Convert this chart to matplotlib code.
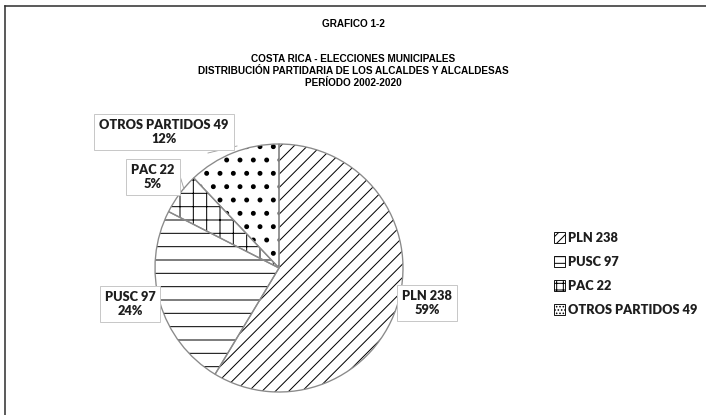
import matplotlib.pyplot as plt
from matplotlib.lines import Line2D
from matplotlib.patches import Patch

parties = ['PLN', 'PUSC', 'PAC', 'OTROS PARTIDOS']
mayors = [238, 97, 22, 49]
hatches = ['//', '-', '+', '.']
legend_hatches = ['///', '--', '++', '....']

title_lines = ['GRAFICO 1-2', '', 'COSTA RICA - ELECCIONES MUNICIPALES',
               'DISTRIBUCIÓN PARTIDARIA DE LOS ALCALDES Y ALCALDESAS',
               'PERÍODO 2002-2020']

plt.rcParams['hatch.linewidth'] = 0.9
W, H = 706, 415
fig = plt.figure(figsize=(W / 80, H / 80), dpi=80)

# pie axes: center (279, 268) px, radius 124 px
cx, cy, r = 279, 268, 124
ax = fig.add_axes([(cx - r) / W, (H - cy - r) / H, 2 * r / W, 2 * r / H])
wedges, _ = ax.pie(mayors, startangle=90, counterclock=False,
                   colors=['white'] * 4,
                   wedgeprops=dict(edgecolor='black', linewidth=0))
for w, h in zip(wedges, hatches):
    w.set_hatch(h)
# bigger dots for the last wedge
if hasattr(wedges[3], 'set_hatch_linewidth'):
    wedges[3].set_hatch_linewidth(2.0)
# grey outline on top of the hatched wedges
ax.pie(mayors, startangle=90, counterclock=False, colors=['none'] * 4,
       wedgeprops=dict(edgecolor='#8a8a8a', linewidth=1.2))
ax.set_xlim(-1, 1)
ax.set_ylim(-1, 1)
ax.axis('off')

# titles
fig.text(0.5, 1 - 24 / H, title_lines[0], ha='center', va='center',
         fontsize=9, fontweight='bold', family='Liberation Sans')
fig.text(0.5, 1 - 71 / H, '\n'.join(title_lines[2:]), ha='center', va='center',
         fontsize=9, fontweight='bold', family='Liberation Sans', linespacing=1.3)

# data labels
total = sum(mayors)
label_pos = [(427, 303), (130, 304), (153, 177), (164, 132)]
for name, val, (x, y) in zip(parties, mayors, label_pos):
    pct = round(100 * val / total)
    fig.text(x / W, 1 - y / H, f'{name} {val}\n{pct}%', ha='center', va='center',
             fontsize=11.5, fontweight='heavy', family='Lato', color='#1e1e1e',
             linespacing=1.2,
             bbox=dict(boxstyle='square,pad=0.4', fc='white', ec='#c8c8c8', lw=0.9))

# leader lines
fig.add_artist(Line2D([208 / W, 237 / W], [1 - 153 / H, 1 - 146 / H],
                      color='#a0a0a0', lw=0.8))
fig.add_artist(Line2D([180 / W, 184 / W], [1 - 176 / H, 1 - 189 / H],
                      color='#a0a0a0', lw=0.8))

# legend
handles = [Patch(facecolor='white', edgecolor='black', lw=0.8, hatch=h)
           for h in legend_hatches]
leg = fig.legend(handles, [f'{p} {v}' for p, v in zip(parties, mayors)],
                 loc='center left', bbox_to_anchor=(542 / W, 1 - 274 / H),
                 frameon=False, handlelength=0.9, handleheight=0.9,
                 handletextpad=0.25, labelspacing=0.95,
                 prop=dict(family='Lato', weight='heavy', size=11.5))
for t in leg.get_texts():
    t.set_color('#1e1e1e')

# frame (top and left edges only)
fig.add_artist(Line2D([5 / W, 1], [1 - 6 / H, 1 - 6 / H], color='#303030', lw=1.4))
fig.add_artist(Line2D([5 / W, 5 / W], [0, 1 - 6 / H], color='#303030', lw=1.4))

fig.savefig('out.png', dpi=80)
